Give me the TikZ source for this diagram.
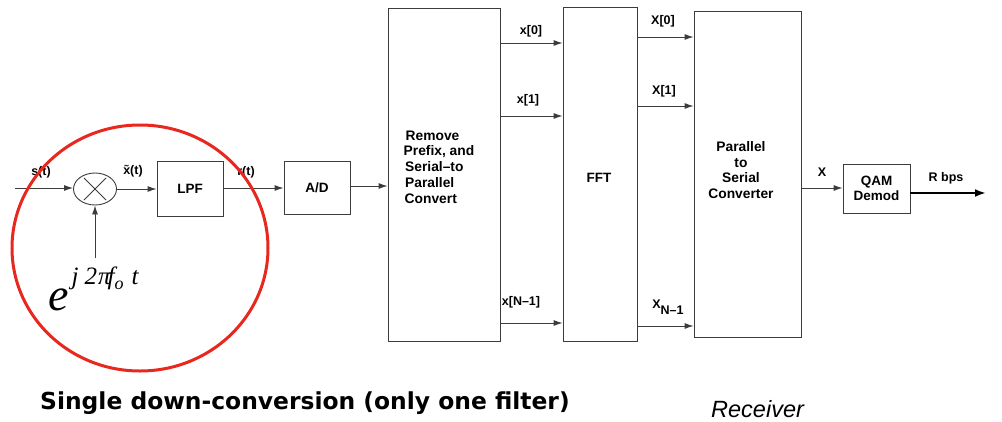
\documentclass[tikz,border=0pt]{standalone}
\usepackage{fontspec}
\setmainfont{Liberation Sans}
\newfontfamily\capfont{DejaVu Sans}
\newfontfamily\serfont{Liberation Serif}
\usetikzlibrary{arrows.meta,shapes.geometric}
\definecolor{ln}{RGB}{60,60,60}
\definecolor{circred}{RGB}{232,40,30}
\begin{document}
\begin{tikzpicture}[x=1pt,y=-1pt,
  box/.style={draw=ln,line width=0.9pt,inner sep=0pt,font=\fontsize{13.5}{15.5}\selectfont\bfseries,align=center},
  arr/.style={draw=ln,line width=0.9pt,-{Latex[length=9pt,width=6pt]}},
  lab/.style={inner sep=0pt,font=\fontsize{12.5}{14}\selectfont\bfseries}]
\useasboundingbox (0,0) rectangle (1002,421);
% blocks
\node[draw=ln,line width=0.9pt,ellipse,minimum width=43pt,minimum height=32pt,inner sep=0pt] (mix) at (95,189) {};
\draw[ln,line width=0.8pt,shorten >=3pt,shorten <=3pt] (mix.45) -- (mix.225);
\draw[ln,line width=0.8pt,shorten >=3pt,shorten <=3pt] (mix.135) -- (mix.-45);
\node[box,minimum width=66pt,minimum height=55pt] (lpf) at (190,188.5) {LPF};
\node[box,minimum width=66pt,minimum height=53pt] (ad) at (317,187.5) {A/D};
\node[box,minimum width=112pt,minimum height=333pt] (rem) at (444,174.5) {};
\node[inner sep=0pt,font=\fontsize{13.8}{15.8}\selectfont\bfseries,align=left] (remt) at (439,167) {\hspace{2pt}Remove\\Prefix, and\\\hspace{1.5pt}Serial--to\\\hspace{1.5pt}Parallel\\\hspace{1pt}Convert};
\node[box,minimum width=74pt,minimum height=334pt] (fft) at (600,174) {};
\node[lab,font=\fontsize{13.5}{15}\selectfont\bfseries] (fftt) at (599,178) {FFT};
\node[box,minimum width=107pt,minimum height=326pt] (ps) at (747.5,174) {};
\node[inner sep=0pt,font=\fontsize{13.8}{15.6}\selectfont\bfseries,align=center] (pst) at (741,170) {Parallel\\to\\Serial\\Converter};
\node[box,minimum width=67pt,minimum height=49pt] (qam) at (876.5,188.5) {QAM\\Demod};
% free ends
\coordinate (sin) at (15,188);
\coordinate (expt) at (95,258);
\coordinate (out) at (986,193);
% connectors
\draw[arr] (sin) -- (mix.west |- sin);
\draw[arr] (expt) -- (mix.south);
\draw[arr] (mix.east) -- (lpf.west |- mix.east);
\draw[arr] (lpf.east |- 0,188) -- (ad.west |- 0,188);
\draw[arr] (ad.east |- 0,186) -- (rem.west |- 0,186);
\draw[arr] (rem.east |- 0,43) -- (fft.west |- 0,43);
\draw[arr] (rem.east |- 0,116) -- (fft.west |- 0,116);
\draw[arr] (rem.east |- 0,323) -- (fft.west |- 0,323);
\draw[arr] (fft.east |- 0,37) -- (ps.west |- 0,37);
\draw[arr] (fft.east |- 0,106) -- (ps.west |- 0,106);
\draw[arr] (fft.east |- 0,326) -- (ps.west |- 0,326);
\draw[arr] (ps.east |- 0,188) -- (qam.west |- 0,188);
\draw[draw=black,line width=2.2pt,-{Latex[length=11pt,width=8pt]}] (qam.east |- out) -- (out);
% labels
\node[lab] (ls) at (41,172) {s(t)};
\node[lab] (lx) at (133,171) {\~{x}(t)};
\node[lab] (lr) at (246,172) {r(t)};
\node[lab] (l0) at (531,31) {x[0]};
\node[lab] (l1) at (528,100) {x[1]};
\node[lab] (ln1) at (521,302) {x[N--1]};
\node[lab] (L0) at (663,21) {X[0]};
\node[lab] (L1) at (664,91) {X[1]};
\node[lab] (LN) at (668,307) {X\raisebox{-6pt}{N--1}};
\node[lab] (LX) at (822,172) {X};
\node[lab] (lR) at (946,178) {R bps};
% exponential
\node[inner sep=0pt,anchor=base west] (exp) at (48,310) {\serfont\itshape\fontsize{46}{46}\selectfont e\hspace{3pt}\raisebox{26pt}{\fontsize{25}{25}\selectfont j\hspace{6pt}2\kern1pt π\kern-3pt f\raisebox{-5pt}{\fontsize{18}{18}\selectfont o}\kern8pt t}};
% red circle
\draw[circred,line width=3pt] (140,248) ellipse [x radius=128, y radius=123];
% captions
\node[inner sep=0pt,anchor=west] (cap) at (40,403) {\capfont\bfseries\fontsize{23.4}{26}\selectfont Single down-conversion (only one filter)};
\node[inner sep=0pt,anchor=west] (rec) at (711,409) {\itshape\fontsize{23.5}{26}\selectfont Receiver};
\end{tikzpicture}
\end{document}
